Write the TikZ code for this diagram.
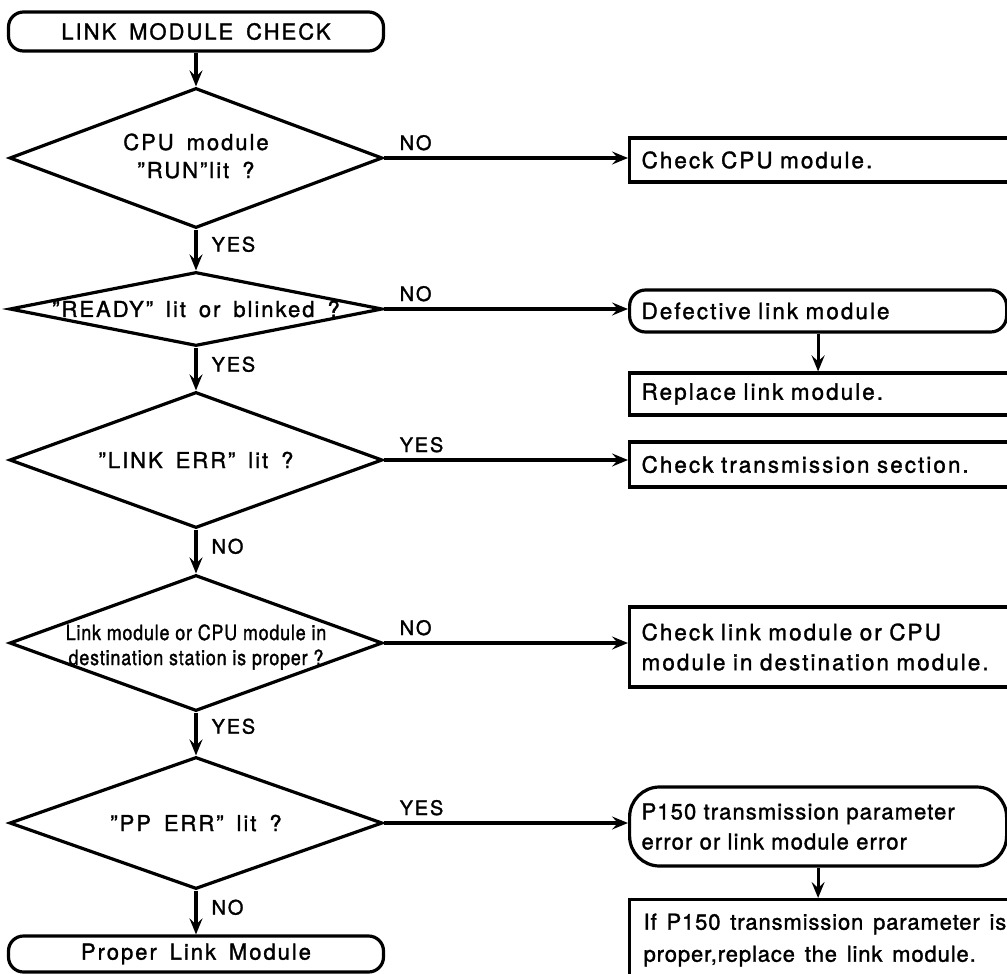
\documentclass[tikz,border=0pt]{standalone}
\usepackage{fontspec}
\setmainfont{TeX Gyre Heros}[LetterSpace=9,WordSpace=1.6,FakeBold=1.4]
\newfontfamily\narrowfont{TeX Gyre Heros}[FakeStretch=0.85,LetterSpace=4,FakeBold=1.4]
\newfontfamily\tightfont{TeX Gyre Heros}[LetterSpace=4,WordSpace=1.4,FakeBold=1.4]
\newfontfamily\midfont{TeX Gyre Heros}[LetterSpace=5,WordSpace=2.2,FakeBold=1.4]
\usetikzlibrary{shapes.geometric,arrows.meta,calc}
\tikzset{
  main/.style={font=\fontsize{22}{28}\selectfont},
  lbl/.style={font=\fontsize{20}{24}\selectfont, inner sep=0pt},
  dia/.style={draw, shape=diamond, inner sep=0pt, minimum width=373pt},
  dtext/.style={main, align=center, inner sep=0pt},
  term/.style={draw, rectangle, rounded corners=15pt, minimum width=375pt, main, inner sep=0pt},
  rbox/.style={draw, rectangle, anchor=west, minimum width=384pt, text width=360pt,
     align=left, inner xsep=12pt, inner ysep=0pt, font=\fontsize{22.5}{30}\selectfont},
  rrbox/.style={rbox, minimum width=377pt, text width=353pt},
  arr/.style={-{Stealth[length=16pt,width=13pt,inset=6pt]}},
}
\begin{document}
\begin{tikzpicture}[x=1pt,y=-1pt,line width=3.2pt]
\useasboundingbox (0,0) rectangle (1007,974);
\clip (0,0) rectangle (1007,974);
\fill[white] (0,0) rectangle (1007,974);

% left column
\node[term, minimum height=39pt] (s) at (196,31.5) {LINK MODULE CHECK};
\node[dia, minimum height=140pt] (d1) at (196,158) {};
\node[dtext] (d1t) at (196,156) {CPU module\\"RUN"lit ?};
\node[dia, minimum height=74pt] (d2) at (196,309) {};
\node[dtext] (d2t) at (196,309) {"READY" lit or blinked ?};
\node[dia, minimum height=136pt] (d3) at (196,460) {};
\node[dtext] (d3t) at (196,460) {"LINK ERR" lit ?};
\node[dia, minimum height=136pt] (d4) at (196,643) {};
\node[dtext, font=\narrowfont\fontsize{21}{25}\selectfont] (d4t) at (196,647)
  {Link module or CPU module in\\destination station is proper ?};
\node[dia, minimum height=132pt] (d5) at (196,823) {};
\node[dtext] (d5t) at (196,823) {"PP ERR" lit ?};
\node[term, minimum height=36pt] (e) at (196,954) {Proper Link Module};

% right column
\node[rbox, minimum height=44pt] (b1) at (628,160) {Check CPU module.};
\node[rrbox, rounded corners=16pt, minimum height=42pt] (b2) at (628,311) {Defective link module};
\node[rbox, minimum height=42pt] (b3) at (628,394) {Replace link module.};
\node[rbox, minimum height=45pt] (b4) at (628,464.5) {Check transmission section.};
\node[rbox, minimum height=80pt] (b5) at (628,647) {Check link module or CPU\\module in destination module.};
\node[rrbox, rounded corners=30pt, minimum height=79pt, font=\midfont\fontsize{22}{30}\selectfont] (b6) at (628,826.5)
  {P150 transmission parameter\\error or link module error};
\node[draw, rectangle, anchor=north west, minimum width=384pt, minimum height=110pt] (b7) at (628,898) {};
\node[anchor=north west, align=left, inner sep=0pt, font=\tightfont\fontsize{22}{32}\selectfont]
  (b7t) at (642,912) {If P150 transmission parameter is\\proper,replace the link module.};

% vertical arrows
\draw[arr] (s) -- (d1);
\draw[arr] (d1) -- (d2);
\draw[arr] (d2) -- (d3);
\draw[arr] (d3) -- (d4);
\draw[arr] (d4) -- (d5);
\draw[arr] (d5) -- (e);
\draw[arr] (b2.south) -- (b2.south |- b3.north);
\draw[arr] (b6.south) -- (b6.south |- b7.north);

% horizontal arrows
\draw[arr] (d1.east) -- (b1.west |- d1.east);
\draw[arr] (d2.east) -- (b2.west |- d2.east);
\draw[arr] (d3.east) -- (b4.west |- d3.east);
\draw[arr] (d4.east) -- (b5.west |- d4.east);
\draw[arr] (d5.east) -- (b6.west |- d5.east);

% labels
\node[lbl, anchor=base west] (l1r) at ([xshift=14pt,yshift=8pt]d1.east) {NO};
\node[lbl, anchor=base west] (l2r) at ([xshift=14pt,yshift=8pt]d2.east) {NO};
\node[lbl, anchor=base west] (l3r) at ([xshift=14pt,yshift=8pt]d3.east) {YES};
\node[lbl, anchor=base west] (l4r) at ([xshift=14pt,yshift=8pt]d4.east) {NO};
\node[lbl, anchor=base west] (l5r) at ([xshift=14pt,yshift=8pt]d5.east) {YES};
\node[lbl, anchor=base west] (l1d) at ([xshift=14pt,yshift=-22pt]d1.south) {YES};
\node[lbl, anchor=base west] (l2d) at ([xshift=14pt,yshift=-24pt]d2.south) {YES};
\node[lbl, anchor=base west] (l3d) at ([xshift=14pt,yshift=-24pt]d3.south) {NO};
\node[lbl, anchor=base west] (l4d) at ([xshift=14pt,yshift=-21pt]d4.south) {YES};
\node[lbl, anchor=base west] (l5d) at ([xshift=14pt,yshift=-24pt]d5.south) {NO};
\end{tikzpicture}
\end{document}
